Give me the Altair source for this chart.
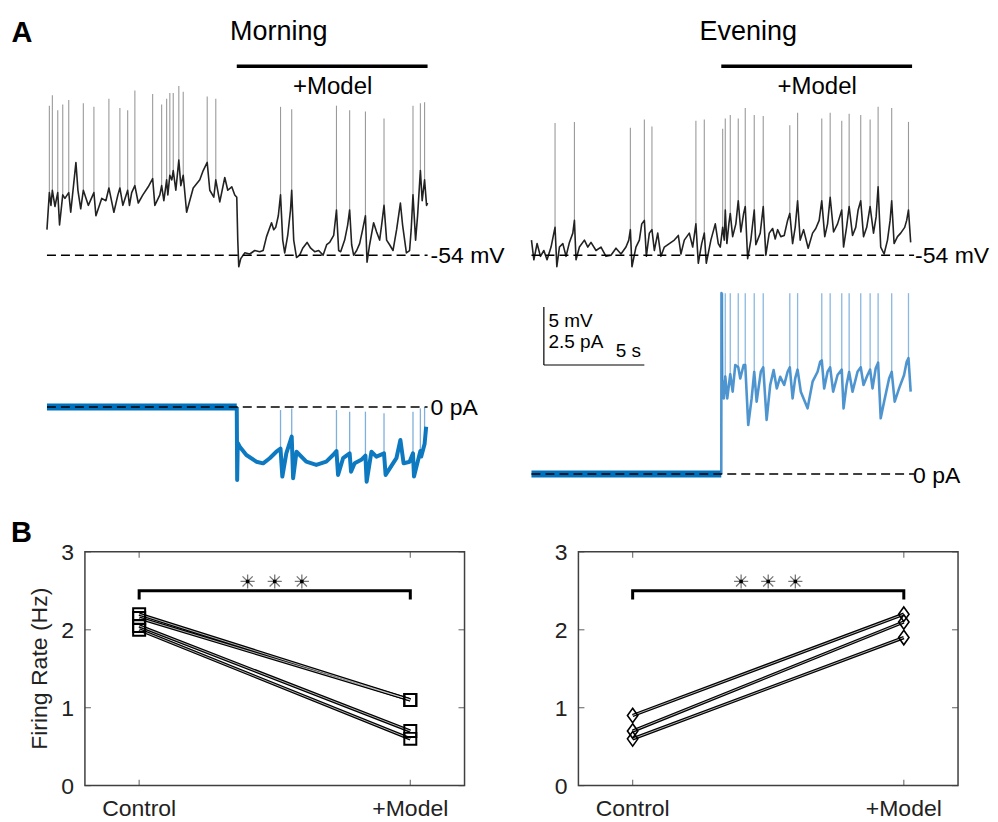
import altair as alt
import pandas as pd

FONT = "Liberation Sans"

# ---------------- Panel A : Morning (left) ----------------
# membrane potential trajectory (time s, mV)
MORNING_V = [
    (0.00, -51.8), (0.12, -48.6), (0.20, -49.7), (0.27, -48.4), (0.40, -49.8), (0.54, -48.6), (0.63, -51.4),
    (0.79, -48.8), (0.90, -49.1), (1.09, -48.6), (1.19, -50.3), (1.45, -46.0), (1.55, -48.4), (1.69, -50.0),
    (1.82, -48.4), (2.07, -49.7), (2.35, -48.6), (2.45, -50.6), (2.74, -49.1), (2.95, -49.3), (3.10, -48.2),
    (3.35, -50.3), (3.55, -48.8), (3.65, -48.2), (3.80, -49.7), (4.04, -48.4), (4.13, -49.7), (4.24, -48.6),
    (4.40, -48.0), (4.57, -49.5), (4.80, -48.8), (5.07, -48.1), (5.29, -47.4), (5.40, -49.7), (5.65, -48.8),
    (5.74, -48.0), (5.85, -49.3), (5.99, -47.5), (6.05, -48.8), (6.15, -47.1), (6.25, -47.5), (6.32, -46.7),
    (6.45, -48.4), (6.60, -45.8), (6.70, -48.0), (6.82, -47.1), (6.99, -50.3), (7.32, -48.2), (7.65, -47.5),
    (7.82, -46.7), (8.02, -46.0), (8.15, -48.4), (8.35, -49.0), (8.45, -47.5), (8.65, -49.4), (8.90, -47.3),
    (9.05, -48.4), (9.25, -48.1), (9.40, -48.8), (9.50, -49.0), (9.55, -52.7), (9.60, -55.0), (9.70, -54.3),
    (9.90, -53.8), (10.15, -53.9), (10.40, -53.6), (10.65, -53.7), (10.82, -53.6), (10.99, -52.4), (11.24, -51.2),
    (11.35, -51.8), (11.45, -51.6), (11.58, -50.6), (11.69, -48.8), (11.80, -52.7), (11.90, -53.8), (12.05, -52.3),
    (12.19, -50.1), (12.25, -48.4), (12.35, -52.7), (12.49, -54.2), (12.65, -54.0), (12.80, -53.4), (13.02, -52.9),
    (13.20, -53.4), (13.40, -53.7), (13.60, -53.6), (13.82, -54.0), (14.00, -53.1), (14.15, -52.9), (14.35, -52.3),
    (14.49, -50.1), (14.60, -53.6), (14.70, -53.7), (14.90, -52.7), (15.05, -51.4), (15.15, -50.1), (15.25, -53.1),
    (15.35, -54.0), (15.50, -53.6), (15.65, -53.0), (15.80, -51.8), (15.94, -50.6), (16.02, -54.6), (16.15, -53.1),
    (16.35, -51.2), (16.50, -52.0), (16.65, -52.7), (16.75, -51.4), (16.87, -49.7), (17.00, -52.7), (17.15, -53.1),
    (17.32, -53.6), (17.50, -51.8), (17.69, -49.5), (17.80, -51.4), (17.99, -53.8), (18.15, -53.6), (18.23, -51.8),
    (18.32, -48.8), (18.45, -52.7), (18.55, -50.6), (18.69, -46.7), (18.78, -49.3), (18.90, -47.5), (19.00, -49.7),
    (19.05, -49.5)]
# action potentials (time s, base mV, peak mV)
MORNING_V_SPIKES = [
    (0.12, -48.6, -41.1), (0.27, -48.4, -40.2), (0.54, -48.6, -41.5), (0.79, -48.8, -41.0), (1.09, -48.6, -40.6),
    (1.82, -48.4, -40.9), (2.35, -48.6, -41.2), (3.10, -48.2, -40.5), (3.65, -48.2, -41.3), (4.04, -48.4, -41.5),
    (4.40, -48.0, -39.8), (5.29, -47.4, -40.1), (5.74, -48.0, -41.0), (5.99, -47.5, -40.5), (6.15, -47.1, -40.0),
    (6.32, -46.7, -40.0), (6.60, -45.8, -39.4), (6.82, -47.1, -39.9), (8.02, -46.0, -40.3), (8.45, -47.5, -40.5),
    (11.69, -48.8, -41.2), (12.25, -48.4, -41.4), (14.49, -50.1, -41.1), (15.15, -50.1, -41.5), (15.94, -50.6, -41.6),
    (16.87, -49.7, -42.2), (18.32, -48.8, -41.1), (18.69, -46.7, -40.9), (18.90, -47.5, -40.8)]
# injected model current (time s, pA)
MORNING_I_PRE = [(0.00, 0.0), (9.50, 0.0)]
MORNING_I = [
    (9.50, 0.00), (9.52, -3.15), (9.55, -1.55), (9.65, -1.71), (9.98, -2.07), (10.48, -2.36), (10.82, -2.43),
    (11.15, -2.21), (11.48, -1.93), (11.69, -1.80), (11.78, -3.00), (11.98, -2.00), (12.25, -1.28), (12.32, -3.07),
    (12.49, -1.93), (12.98, -2.36), (13.48, -2.50), (13.98, -2.36), (14.32, -2.07), (14.49, -1.90), (14.57, -2.93),
    (14.82, -2.21), (15.15, -2.00), (15.22, -2.79), (15.40, -2.43), (15.73, -2.28), (15.94, -2.10), (16.00, -3.22),
    (16.24, -1.93), (16.49, -2.14), (16.87, -2.00), (16.95, -2.93), (17.32, -2.43), (17.49, -2.21), (17.69, -1.42),
    (17.85, -2.43), (18.15, -2.36), (18.32, -2.00), (18.37, -3.00), (18.69, -1.90), (18.73, -2.14), (18.90, -1.60),
    (18.98, -0.85)]
MORNING_I_SPIKES = [
    (11.69, -1.80, -0.13), (12.25, -1.28, -0.06), (14.49, -1.90, -0.13), (15.15, -2.00, -0.20), (15.94, -2.10, -0.20),
    (16.87, -2.00, -0.27), (18.32, -2.00, -0.20), (18.69, -1.90, -0.06), (18.90, -1.60, 0.00)]

# ---------------- Panel A : Evening (right) ----------------
EVENING_V = [
    (0.00, -52.7), (0.12, -54.4), (0.28, -53.0), (0.45, -54.1), (0.62, -53.6), (0.78, -54.4), (0.98, -53.3),
    (1.12, -52.1), (1.18, -51.6), (1.27, -55.0), (1.40, -53.3), (1.57, -53.0), (1.73, -54.1), (1.90, -52.9),
    (2.07, -52.1), (2.15, -51.0), (2.23, -54.4), (2.40, -53.3), (2.65, -52.7), (2.82, -53.3), (2.98, -52.9),
    (3.23, -53.6), (3.48, -53.3), (3.73, -54.1), (3.98, -54.0), (4.23, -53.4), (4.48, -53.9), (4.73, -53.3),
    (4.87, -52.7), (4.95, -51.8), (5.03, -55.0), (5.23, -53.3), (5.40, -52.7), (5.52, -51.3), (5.65, -51.0),
    (5.75, -54.1), (5.90, -52.1), (6.03, -51.8), (6.15, -53.6), (6.32, -52.1), (6.48, -54.1), (6.65, -53.3),
    (6.90, -53.0), (7.15, -52.7), (7.35, -52.3), (7.48, -53.9), (7.65, -52.7), (7.90, -52.1), (8.07, -53.3),
    (8.23, -51.3), (8.35, -54.7), (8.52, -53.0), (8.65, -52.1), (8.75, -54.7), (8.98, -52.7), (9.20, -51.3),
    (9.35, -53.0), (9.45, -53.3), (9.57, -51.6), (9.65, -52.7), (9.70, -50.1), (9.78, -53.0), (9.88, -51.3),
    (9.95, -50.4), (10.07, -52.4), (10.23, -51.3), (10.35, -49.3), (10.48, -52.0), (10.62, -50.4), (10.70, -49.8),
    (10.82, -54.3), (10.98, -52.7), (11.15, -50.1), (11.23, -53.1), (11.45, -52.1), (11.60, -49.8), (11.73, -54.0),
    (11.90, -52.1), (12.07, -51.7), (12.20, -52.6), (12.32, -51.8), (12.48, -52.4), (12.65, -52.3), (12.82, -51.0),
    (12.93, -50.4), (13.07, -53.0), (13.20, -51.6), (13.32, -49.3), (13.45, -52.7), (13.62, -51.8), (13.85, -53.4),
    (14.07, -52.1), (14.23, -51.7), (14.40, -51.0), (14.53, -49.3), (14.68, -52.4), (14.82, -51.3), (14.95, -49.0),
    (15.12, -52.0), (15.32, -51.3), (15.53, -50.1), (15.62, -53.3), (15.77, -51.6), (15.90, -49.8), (16.07, -52.3),
    (16.23, -51.6), (16.35, -50.1), (16.48, -49.3), (16.62, -52.4), (16.78, -51.6), (16.95, -49.8), (17.12, -52.1),
    (17.25, -50.7), (17.35, -48.1), (17.48, -53.3), (17.65, -53.9), (17.82, -52.7), (17.95, -51.0), (18.03, -49.3),
    (18.15, -53.0), (18.32, -52.4), (18.48, -52.1), (18.68, -51.6), (18.78, -51.0), (18.87, -50.1), (18.98, -52.9)]
EVENING_V_SPIKES = [
    (1.18, -51.6, -42.6), (2.15, -51.0, -42.5), (4.95, -51.8, -43.0), (5.65, -51.0, -42.3), (6.03, -51.8, -42.9),
    (8.23, -51.3, -42.4), (8.65, -52.1, -42.3), (9.57, -51.6, -43.1), (9.70, -50.1, -42.2), (9.95, -50.4, -41.9),
    (10.35, -49.3, -42.2), (10.70, -49.8, -41.3), (11.15, -50.1, -41.9), (11.60, -49.8, -42.0), (12.93, -50.4, -42.8),
    (13.32, -49.3, -41.7), (14.53, -49.3, -42.2), (14.95, -49.0, -41.7), (15.53, -50.1, -42.4), (15.90, -49.8, -41.8),
    (16.48, -49.3, -41.9), (16.95, -49.8, -42.3), (17.35, -48.1, -41.2), (18.03, -49.3, -41.3), (18.87, -50.1, -42.5)]
EVENING_I_PRE = [(0.00, 0.0), (9.50, 0.0)]
EVENING_I = [
    (9.50, 0.00), (9.51, 7.80), (9.54, 3.84), (9.57, 4.00), (9.63, 3.26), (9.70, 4.20), (9.80, 3.26), (9.95, 4.30),
    (10.07, 3.55), (10.20, 4.70), (10.35, 4.60), (10.45, 4.12), (10.62, 4.70), (10.70, 4.70), (10.85, 2.11),
    (11.02, 3.26), (11.15, 4.40), (11.27, 3.12), (11.48, 4.41), (11.60, 4.60), (11.77, 2.33), (11.95, 3.84),
    (12.12, 4.48), (12.28, 3.69), (12.45, 4.19), (12.65, 3.84), (12.82, 4.41), (12.93, 4.60), (13.07, 3.26),
    (13.20, 4.12), (13.32, 4.50), (13.48, 3.55), (13.82, 2.83), (14.07, 3.98), (14.32, 4.41), (14.45, 4.84),
    (14.53, 4.90), (14.65, 3.69), (14.82, 4.41), (14.95, 4.60), (15.10, 3.55), (15.32, 4.27), (15.53, 4.50),
    (15.62, 2.83), (15.77, 3.84), (15.90, 4.40), (16.07, 3.55), (16.32, 4.41), (16.48, 4.60), (16.62, 3.84),
    (16.82, 4.27), (16.95, 4.50), (17.07, 3.69), (17.23, 4.56), (17.35, 4.80), (17.48, 2.40), (17.65, 3.12),
    (17.90, 4.12), (18.03, 4.40), (18.18, 3.12), (18.40, 3.69), (18.65, 4.27), (18.78, 4.84), (18.87, 5.00),
    (18.98, 3.55)]
EVENING_I_SPIKES = [
    (9.57, 4.0, 7.8), (9.70, 4.2, 7.8), (9.95, 4.3, 7.8), (10.35, 4.6, 7.8), (10.70, 4.7, 7.8), (11.15, 4.4, 7.8),
    (11.60, 4.6, 7.8), (12.93, 4.6, 7.8), (13.32, 4.5, 7.8), (14.53, 4.9, 7.8), (14.95, 4.6, 7.8), (15.53, 4.5, 7.8),
    (15.90, 4.4, 7.8), (16.48, 4.6, 7.8), (16.95, 4.5, 7.8), (17.35, 4.8, 7.8), (18.03, 4.4, 7.8), (18.87, 5.0, 7.8)]

MODEL_ON, MODEL_OFF = 9.5, 19.05
REST_MV = -54
ZERO_PA = 0
SCALEBAR = dict(t0=0.62, t1=5.65, i0=4.7, i1=7.2)

# ---------------- Panel B ----------------
B_CATS = ["Control", "+Model"]
B_POS = [1, 2]
B_YTICKS = [0, 1, 2, 3]
MORNING_CTRL = [2.2, 2.15, 2.05, 2.0]
MORNING_MODEL = [1.1, 1.1, 0.7, 0.6]
EVENING_CTRL = [0.9, 0.7, 0.6]
EVENING_MODEL = [2.2, 2.1, 1.9]
SIG_X = [1.4, 1.5, 1.6]
SIG_Y = 2.62
BRACKET_TOP, BRACKET_LEG = 2.5, 2.39


def sc(d, r):
    return alt.Scale(domain=d, range=r, nice=False, zero=False)


TL = sc([0, 20], [39, 439])
TR = sc([0, 20], [524, 924])
VY = sc([-60, -38], [316.6, 61.4])
ILY = sc([-4, 1], [491.8, 375.8])
IRY = sc([-1, 9], [489.2, 257.2])
BXL = sc([0.8, 2.2], [77, 457])
BXR = sc([0.8, 2.2], [571, 951])
BY = sc([0, 3], [778, 544])


def X(f, s):
    return alt.X(f, type="quantitative", scale=s, axis=None)


def Y(f, s):
    return alt.Y(f, type="quantitative", scale=s, axis=None)


def trace(rows, xs, ys, color, width, opacity=1.0):
    d = pd.DataFrame(rows, columns=["t", "v"])
    return alt.Chart(d).mark_line(color=color, strokeWidth=width, strokeJoin="round", opacity=opacity).encode(
        x=X("t", xs), y=Y("v", ys))


def spikes(rows, xs, ys, color, width):
    d = pd.DataFrame(rows, columns=["t", "base", "peak"])
    return alt.Chart(d).mark_rule(color=color, strokeWidth=width).encode(
        x=X("t", xs), y=Y("base", ys), y2="peak")


def dashed(t0, t1, level, xs, ys):
    d = pd.DataFrame({"t": [t0], "t2": [t1], "v": [level]})
    return alt.Chart(d).mark_rule(color="black", strokeWidth=1.5, strokeDash=[9, 5]).encode(
        x=X("t", xs), x2="t2", y=Y("v", ys))


def label_at(text, t, v, xs, ys, size, dy, align="left"):
    d = pd.DataFrame({"t": [t], "v": [v], "s": [text]})
    return alt.Chart(d).mark_text(align=align, baseline="alphabetic", dy=dy, fontSize=size, font=FONT,
                                  color="black").encode(x=X("t", xs), y=Y("v", ys), text="s:N")


def label_top(text, t, ypx, xs, size):
    d = pd.DataFrame({"t": [t], "s": [text]})
    return alt.Chart(d).mark_text(align="center", baseline="alphabetic", fontSize=size, font=FONT,
                                  color="black").encode(x=X("t", xs), y=alt.value(ypx), text="s:N")


def model_bar(xs):
    d = pd.DataFrame({"t": [MODEL_ON], "t2": [MODEL_OFF]})
    return alt.Chart(d).mark_rule(color="black", strokeWidth=3.5).encode(x=X("t", xs), x2="t2", y=alt.value(58))


BLUE = "#0072BD"
layers = []

# ---- Morning column ----
layers += [
    label_top("Morning", 11.6, 32, TL, 27),
    model_bar(TL),
    label_top("+Model", 14.3, 86, TL, 24),
    spikes(MORNING_V_SPIKES, TL, VY, "#9a9a9a", 1.1),
    trace(MORNING_V, TL, VY, "#222222", 1.6),
    dashed(0, MODEL_OFF, REST_MV, TL, VY),
    label_at("-54 mV", 19.2, REST_MV, TL, VY, 23, 8),
    trace(MORNING_I_PRE, TL, ILY, BLUE, 7),
    spikes(MORNING_I_SPIKES, TL, ILY, "#7fb0dd", 1.3),
    trace(MORNING_I, TL, ILY, BLUE, 4.0, 0.95),
    dashed(0, MODEL_OFF, ZERO_PA, TL, ILY),
    label_at("0 pA", 19.2, ZERO_PA, TL, ILY, 23, 8),
]

# ---- Evening column ----
layers += [
    label_top("Evening", 10.85, 32, TR, 27),
    model_bar(TR),
    label_top("+Model", 14.3, 86, TR, 24),
    spikes(EVENING_V_SPIKES, TR, VY, "#9a9a9a", 1.1),
    trace(EVENING_V, TR, VY, "#222222", 1.6),
    dashed(0, 19.15, REST_MV, TR, VY),
    label_at("-54 mV", 19.2, REST_MV, TR, VY, 23, 8),
    trace(EVENING_I_PRE, TR, IRY, BLUE, 7),
    spikes(EVENING_I_SPIKES, TR, IRY, "#8ab8e0", 1.3),
    trace(EVENING_I, TR, IRY, "#2f83c8", 2.6, 0.85),
    dashed(0, 19.15, ZERO_PA, TR, IRY),
    label_at("0 pA", 19.1, ZERO_PA, TR, IRY, 23, 9),
]

# scale bar
sb = SCALEBAR
layers += [
    alt.Chart(pd.DataFrame({"t": [sb["t0"]], "a": [sb["i0"]], "b": [sb["i1"]]})).mark_rule(
        color="black", strokeWidth=1.2).encode(x=X("t", TR), y=Y("a", IRY), y2="b"),
    alt.Chart(pd.DataFrame({"t": [sb["t0"]], "t2": [sb["t1"]], "a": [sb["i0"]]})).mark_rule(
        color="black", strokeWidth=1.2).encode(x=X("t", TR), x2="t2", y=Y("a", IRY)),
    label_at("5 mV", 0.85, 6.35, TR, IRY, 19, 0),
    label_at("2.5 pA", 0.85, 5.43, TR, IRY, 19, 0),
    label_at("5 s", 4.22, 5.03, TR, IRY, 19, 0),
]

# panel letters
for letter, xpx, ypx in [("A", 3.5, 34), ("B", 3, 534)]:
    layers.append(alt.Chart(pd.DataFrame({"s": [letter]})).mark_text(
        align="left", baseline="alphabetic", fontSize=29, fontWeight="bold", font=FONT, color="black").encode(
        x=alt.value(xpx), y=alt.value(ypx), text="s:N"))


def panel_b(xs, ctrl, model, shape, msize, mstroke, with_title):
    out = []
    frame = pd.DataFrame({"x": [0.8], "x2": [2.2], "y": [0], "y2": [3]})
    out.append(alt.Chart(frame).mark_rect(filled=False, color="#404040", strokeWidth=1.5).encode(
        x=X("x", xs), x2="x2", y=Y("y", BY), y2="y2"))
    # inward ticks
    xt = pd.DataFrame({"x": B_POS})
    out.append(alt.Chart(xt.assign(y=0)).mark_tick(orient="vertical", size=6, thickness=1.2, yOffset=-3,
                                                   color="#404040").encode(x=X("x", xs), y=Y("y", BY)))
    out.append(alt.Chart(xt.assign(y=3)).mark_tick(orient="vertical", size=6, thickness=1.2, yOffset=3,
                                                   color="#404040").encode(x=X("x", xs), y=Y("y", BY)))
    yt = pd.DataFrame({"y": B_YTICKS})
    out.append(alt.Chart(yt.assign(x=0.8)).mark_tick(orient="horizontal", size=6, thickness=1.2, xOffset=3,
                                                     color="#404040").encode(x=X("x", xs), y=Y("y", BY)))
    out.append(alt.Chart(yt.assign(x=2.2)).mark_tick(orient="horizontal", size=6, thickness=1.2, xOffset=-3,
                                                     color="#404040").encode(x=X("x", xs), y=Y("y", BY)))
    # tick labels
    yl = pd.DataFrame({"y": B_YTICKS, "x": [0.8] * len(B_YTICKS), "s": [str(v) for v in B_YTICKS]})
    out.append(alt.Chart(yl).mark_text(align="right", baseline="alphabetic", dx=-11, dy=8.5, fontSize=23,
                                       font=FONT, color="#222222").encode(x=X("x", xs), y=Y("y", BY), text="s:N"))
    xl = pd.DataFrame({"x": B_POS, "y": [0] * len(B_POS), "s": B_CATS})
    out.append(alt.Chart(xl).mark_text(align="center", baseline="alphabetic", dy=30, fontSize=23,
                                       font=FONT, color="#222222").encode(x=X("x", xs), y=Y("y", BY), text="s:N"))
    if with_title:
        tt = pd.DataFrame({"x": [0.8], "y": [1.5], "s": ["Firing Rate (Hz)"]})
        out.append(alt.Chart(tt).mark_text(align="center", baseline="alphabetic", angle=270, dy=-38, fontSize=23,
                                           font=FONT, color="#222222").encode(
            x=X("x", xs), y=Y("y", BY), text="s:N"))
    # subject lines
    rows = []
    for i, (c, m) in enumerate(zip(ctrl, model)):
        rows.append({"sub": i, "x": B_POS[0], "r": c})
        rows.append({"sub": i, "x": B_POS[1], "r": m})
    d = pd.DataFrame(rows)
    out.append(alt.Chart(d).mark_line(color="black", strokeWidth=3.4).encode(
        x=X("x", xs), y=Y("r", BY), detail="sub:N"))
    out.append(alt.Chart(d).mark_line(color="#dddddd", strokeWidth=0.8).encode(
        x=X("x", xs), y=Y("r", BY), detail="sub:N"))
    out.append(alt.Chart(d).mark_point(shape=shape, size=msize, filled=False, color="black", strokeWidth=mstroke,
                                       opacity=1).encode(x=X("x", xs), y=Y("r", BY)))
    # significance bracket
    br = pd.DataFrame({"x": [B_POS[0], B_POS[0], B_POS[1], B_POS[1]],
                       "y": [BRACKET_LEG, BRACKET_TOP, BRACKET_TOP, BRACKET_LEG], "o": [0, 1, 2, 3]})
    out.append(alt.Chart(br).mark_line(color="black", strokeWidth=3, strokeCap="butt", strokeJoin="miter").encode(
        x=X("x", xs), y=Y("y", BY), order="o:Q"))
    st = pd.DataFrame({"x": SIG_X, "y": [SIG_Y] * len(SIG_X)})
    out.append(alt.Chart(st).mark_point(shape="M-1,0L1,0M0,-1L0,1M-0.72,-0.72L0.72,0.72M-0.72,0.72L0.72,-0.72",
                                        size=200, filled=False, color="#777777", strokeWidth=1.3, opacity=1).encode(
        x=X("x", xs), y=Y("y", BY)))
    out.append(alt.Chart(st).mark_point(shape="square", size=12, filled=True, color="black", opacity=1).encode(
        x=X("x", xs), y=Y("y", BY)))
    return out


layers += panel_b(BXL, MORNING_CTRL, MORNING_MODEL, "square", 144, 2.0, True)
layers += panel_b(BXR, EVENING_CTRL, EVENING_MODEL, "M0,-1L0.72,0L0,1L-0.72,0Z", 210, 1.6, False)

chart = alt.layer(*layers).resolve_scale(x="independent", y="independent").properties(
    width=980, height=800, padding=0, background="white"
).configure_view(stroke="transparent")

chart.save("out.html", embed_options={"renderer": "svg", "actions": False})
